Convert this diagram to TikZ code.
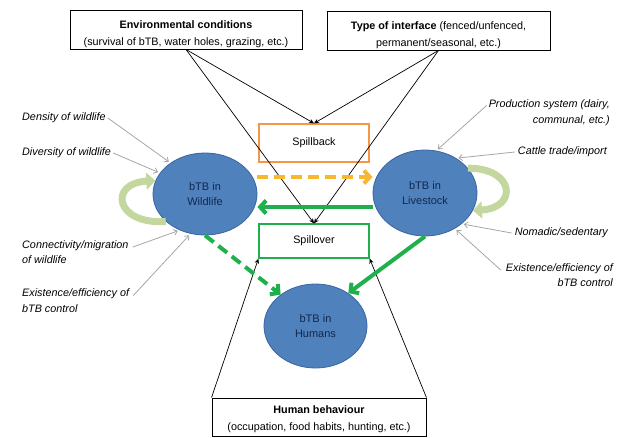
\documentclass[tikz,border=0pt]{standalone}
\usepackage{fontspec}
\setmainfont{Liberation Sans}
\usetikzlibrary{arrows.meta,shapes.geometric,calc}
\definecolor{ellfill}{HTML}{4F81BD}
\definecolor{elldraw}{HTML}{3A64A0}
\definecolor{elltext}{HTML}{14284B}
\definecolor{orangeb}{HTML}{F79646}
\definecolor{greenb}{HTML}{1DB04B}
\definecolor{goldb}{HTML}{F5B82E}
\definecolor{loopg}{HTML}{C4D79E}
\definecolor{greyarr}{HTML}{A6A6A6}
\newcommand{\toppad}[1]{\rule{0pt}{#1}}
\begin{document}
\begin{tikzpicture}[x=1pt,y=-1pt,
  host/.style={ellipse, fill=ellfill, draw=elldraw, line width=0.8pt, inner sep=0pt,
    text=elltext, align=center, font=\fontsize{11}{14.5}\selectfont},
  factor/.style={draw, line width=0.9pt, fill=white, inner sep=0pt, align=center,
    font=\fontsize{10.8}{17}\selectfont},
  flowbox/.style={draw, line width=1.3pt, fill=white, inner sep=0pt,
    minimum width=110pt, font=\fontsize{10.8}{13}\selectfont},
  note/.style={inner sep=0pt, font=\fontsize{10.8}{15.5}\selectfont\itshape},
  blackarr/.style={-{Stealth[length=5pt,width=4.5pt]}, line width=0.7pt},
  greyarrow/.style={draw=greyarr, -{Straight Barb[length=3.5pt,width=6pt]}, line width=0.8pt, shorten >=2pt},
  transfer/.style={line width=4pt, -{Straight Barb[length=6pt,width=13pt]}},
  dashtransfer/.style={transfer, dash pattern=on 11pt off 6pt},
  selfloop/.style={draw=loopg, line width=7pt, -{Triangle[length=9pt,width=17pt]}}
]
\useasboundingbox (0,0) rectangle (621,437);

% factor boxes
\node[factor, minimum width=232pt, minimum height=39pt] (env) at (186,29.5)
  {\toppad{18pt}\textbf{Environmental conditions}\\(survival of bTB, water holes, grazing, etc.)};
\node[factor, minimum width=223pt, minimum height=39pt] (iface) at (438.5,30.5)
  {\toppad{17pt}\textbf{Type of interface} (fenced/unfenced,\\permanent/seasonal, etc.)};
\node[factor, minimum width=214pt, minimum height=38pt] (behav) at (319,417)
  {\toppad{13pt}\textbf{Human behaviour}\\(occupation, food habits, hunting, etc.)};

% flow boxes
\node[flowbox, draw=orangeb, minimum height=38pt] (spillback) at (314,143) {Spillback};
\node[flowbox, draw=greenb, minimum height=34pt] (spillover) at (314,241) {Spillover};

% hosts
\node[host, minimum width=104pt, minimum height=82pt] (wild) at (205,194) {bTB in\\Wildlife};
\node[host, minimum width=104pt, minimum height=86pt] (live) at (425,193) {bTB in\\Livestock};
\node[host, minimum width=103pt, minimum height=84pt] (human) at (315.5,326) {bTB in\\Humans};

% notes left
\node[note, anchor=west] (dens) at (22,118) {Density of wildlife};
\node[note, anchor=west] (divers) at (22,153) {Diversity of wildlife};
\node[note, anchor=west, align=left] (conn) at (22,252) {Connectivity/migration\\of wildlife};
\node[note, anchor=west, align=left] (exleft) at (22,300.5) {Existence/efficiency of\\bTB control};
% notes right
\node[note, anchor=east, align=right] (prod) at (610,112.5) {Production system (dairy,\\communal, etc.)};
\node[note, anchor=east] (cattle) at (607,152) {Cattle trade/import};
\node[note, anchor=east] (nomad) at (608,233) {Nomadic/sedentary};
\node[note, anchor=east, align=right] (exright) at (613,275) {Existence/efficiency of\\bTB control};

% grey annotation arrows
\draw[greyarrow] ([xshift=2pt]dens.east) -- (wild.138);
\draw[greyarrow] ([xshift=2pt]divers.east) -- (wild.155);
\draw[greyarrow] ([xshift=4pt,yshift=-7pt]conn.north east) -- (wild.235);
\draw[greyarrow] ([xshift=4pt,yshift=-7pt]exleft.north east) -- (wild.250);
\draw[greyarrow] ([xshift=-2pt,yshift=-6pt]prod.north west) -- (live.75);
\draw[greyarrow] ([xshift=-3pt]cattle.west) -- (live.48);
\draw[greyarrow] ([xshift=-3pt]nomad.west) -- (live.320);
\draw[greyarrow] ([xshift=-5pt,yshift=-7pt]exright.north west) -- (live.310);

% black influence arrows
\draw[blackarr] (env.south) -- (spillback.north);
\draw[blackarr] (env.south) -- (spillover.north);
\draw[blackarr] (iface.south) -- (spillback.north);
\draw[blackarr] (iface.south) -- (spillover.north);
\draw[blackarr] (behav.north west) -- (spillover.south west);
\draw[blackarr] (behav.north east) -- (spillover.south east);

% transmission arrows
\draw[dashtransfer, draw=goldb] ([yshift=17pt]wild.east) -- ([yshift=16pt]live.west);
\draw[transfer, draw=greenb] ([yshift=-14pt]live.west) -- ([yshift=-13pt]wild.east);
\draw[dashtransfer, draw=greenb] (wild.south) -- (human.138);
\draw[transfer, draw=greenb] (live.south) -- (human.45);

% self loops
\draw[selfloop] (wild.215) .. controls (115,225) and (108,183) .. (wild.165);
\draw[selfloop] (live.30) .. controls (515,168) and (518,208) .. (live.340);
\end{tikzpicture}
\end{document}
